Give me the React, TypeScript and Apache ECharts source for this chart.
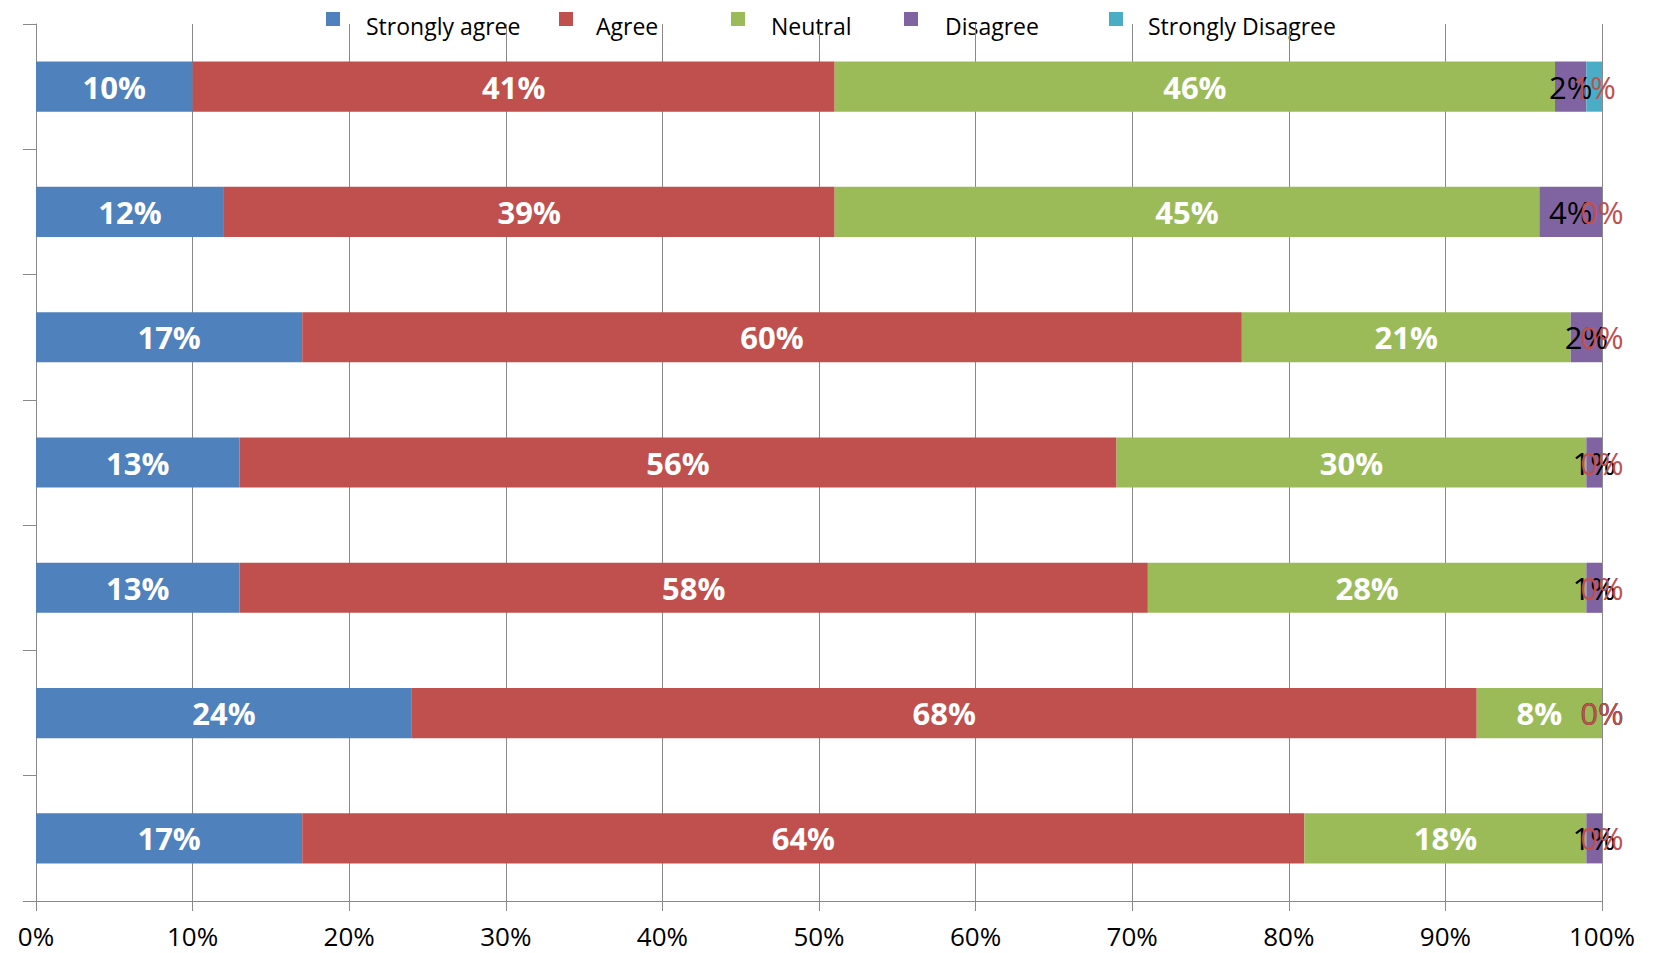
import React, { useEffect, useRef } from "react";
import * as echarts from "echarts";

const categories = ["Item 1", "Item 2", "Item 3", "Item 4", "Item 5", "Item 6", "Item 7"];
const seriesNames = ["Strongly agree", "Agree", "Neutral", "Disagree", "Strongly Disagree"];
const stronglyAgree = [10, 12, 17, 13, 13, 24, 17];
const agree = [41, 39, 60, 56, 58, 68, 64];
const neutral = [46, 45, 21, 30, 28, 8, 18];
const disagree = [2, 4, 2, 1, 1, 0, 1];
const stronglyDisagree = [1, 0, 0, 0, 0, 0, 0];
const xTicks = [0, 10, 20, 30, 40, 50, 60, 70, 80, 90, 100];

const colors = ["#4F81BD", "#C0504D", "#9BBB59", "#8064A2", "#4BACC6"];
const legendMarkerX = [326, 559, 731, 904, 1109];
const legendTextX = [366, 596, 771, 945, 1148];
const FONT = "'Open Sans', 'Noto Sans', sans-serif";

export default function App() {
  const ref = useRef<HTMLDivElement>(null);
  useEffect(() => {
    if (!ref.current) return;
    const chart = echarts.init(ref.current, null, { renderer: "svg" });
    const values = [stronglyAgree, agree, neutral, disagree, stronglyDisagree];
    const labelStyles = [
      { color: "#fff", fontWeight: "bold" },
      { color: "#fff", fontWeight: "bold" },
      { color: "#fff", fontWeight: "bold" },
      { color: "#000", fontWeight: "normal" },
      { color: "#C0504D", fontWeight: "normal" },
    ];
    const legendGraphics: any[] = [];
    seriesNames.forEach((n, i) => {
      legendGraphics.push({
        type: "rect",
        left: legendMarkerX[i],
        top: 12,
        shape: { width: 14, height: 14 },
        style: { fill: colors[i] },
        silent: true,
      });
      legendGraphics.push({
        type: "text",
        left: legendTextX[i],
        top: 14,
        style: {
          text: n,
          fill: "#000",
          font: `23px ${FONT}`,
        },
        silent: true,
      });
    });
    chart.setOption({
      animation: false,
      textStyle: { fontFamily: FONT },
      graphic: legendGraphics,
      grid: { left: 36, right: 58, top: 24, bottom: 52, containLabel: false },
      xAxis: {
        type: "value",
        min: xTicks[0],
        max: xTicks[xTicks.length - 1],
        interval: 10,
        axisLine: { show: true, lineStyle: { color: "#898989", width: 1 } },
        axisTick: { show: true, length: 10, lineStyle: { color: "#898989" } },
        splitLine: { show: true, lineStyle: { color: "#898989", width: 1 } },
        axisLabel: {
          formatter: "{value}%",
          fontFamily: FONT,
          fontSize: 26,
          lineHeight: 26,
          color: "#000",
          margin: 22,
        },
      },
      yAxis: {
        type: "category",
        data: categories,
        inverse: true,
        axisLine: { show: true, lineStyle: { color: "#898989", width: 1 } },
        axisTick: { show: true, length: 13, lineStyle: { color: "#898989" } },
        axisLabel: { show: false },
        splitLine: { show: false },
      },
      series: seriesNames.map((n, i) => ({
        name: n,
        type: "bar",
        stack: "total",
        barWidth: "40%",
        data: values[i],
        itemStyle: { color: colors[i] },
        label: {
          show: true,
          position: "inside",
          formatter: "{c}%",
          fontFamily: FONT,
          fontSize: 31,
          color: labelStyles[i].color,
          fontWeight: labelStyles[i].fontWeight,
        },
      })),
    });
    return () => chart.dispose();
  }, []);
  return <div ref={ref} style={{ width: 1660, height: 953, position: "absolute", left: 0, top: 0 }} />;
}
